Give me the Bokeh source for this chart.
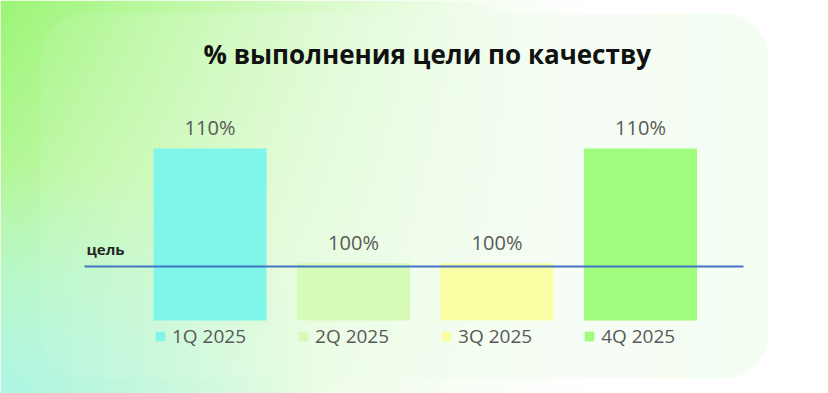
import numpy as np
from bokeh.plotting import figure
from bokeh.models import ColumnDataSource, Range1d, Legend, LegendItem
from bokeh.core.properties import value
from bokeh.embed import file_html
from bokeh.resources import INLINE

# ---- data ----
quarters = ["1Q 2025", "2Q 2025", "3Q 2025", "4Q 2025"]
pct = [110, 100, 100, 110]
pct_labels = ["110%", "100%", "100%", "110%"]
target = 99.7
target_label = "цель"
title_text = "% выполнения цели по качеству"
bar_colors = ["#80F5E9", "#D6FBB9", "#F9FEA5", "#A0FC7C"]

# ---- geometry ----
W, H = 828, 393
axis_min = 95
px_per_cat = 143.5
px_per_unit = 11.467
x0 = -209.5 / px_per_cat
x1 = x0 + W / px_per_cat
y0 = axis_min - (H - 320) / px_per_unit
y1 = y0 + H / px_per_unit

p = figure(width=W, height=H, output_backend="svg", toolbar_location=None,
           x_range=Range1d(x0, x1), y_range=Range1d(y0, y1),
           min_border=0, min_border_left=0, min_border_right=0,
           min_border_top=0, min_border_bottom=0)
p.axis.visible = False
p.grid.visible = False
p.outline_line_color = None
p.border_fill_color = "white"

# ---- background gradient + card ----
X, Y = np.meshgrid(np.arange(W) + 0.5, np.arange(H) + 0.5)
green = np.array([156, 245, 118], float)
cyan = np.array([170, 245, 232], float)
white = np.array([255, 255, 255], float)
wg = np.clip(1 - X / 580, 0, 1) ** 1.2 * (1 - 0.55 * Y / 393)
wc = np.clip(1 - np.sqrt((X / 330) ** 2 + ((393 - Y) / 230) ** 2), 0, 1) * 0.9
rgb = white * (1 - wg[..., None]) + green * wg[..., None]
rgb = rgb * (1 - wc[..., None]) + cyan * wc[..., None]
# rounded card
cx0, cx1, cy0, cy1, r = 40, 768, 13, 378, 45
dx = np.maximum(np.maximum(cx0 + r - X, X - (cx1 - r)), 0)
dy = np.maximum(np.maximum(cy0 + r - Y, Y - (cy1 - r)), 0)
inside = (X >= cx0) & (X <= cx1) & (Y >= cy0) & (Y <= cy1) & (dx ** 2 + dy ** 2 <= r ** 2)
K = np.array([236, 252, 233], float)
a = (0.08 + 0.5 * np.clip((X - cx0) / (cx1 - cx0), 0, 1)) * inside
rgb = rgb * (1 - a[..., None]) + K * a[..., None]
arr = np.zeros((H, W, 4), dtype=np.uint8)
arr[..., :3] = np.clip(rgb, 0, 255).astype(np.uint8)
arr[..., 3] = 255
img = np.flipud(arr).copy().view(np.uint32).reshape(H, W)
p.image_rgba(image=[img], x=x0, y=y0, dw=x1 - x0, dh=y1 - y0)

# ---- bars ----
idx = list(range(len(quarters)))
src = ColumnDataSource(dict(x=idx, top=pct, color=bar_colors, q=quarters,
                            lab=pct_labels,
                            ly=[v + 21 / px_per_unit for v in pct]))
bars = p.vbar(x="x", top="top", bottom=axis_min, width=113 / px_per_cat,
              fill_color="color", line_color=None, source=src)

p.text(x="x", y="ly", text="lab", source=src, text_align="center",
       text_baseline="alphabetic", text_font=value("Open Sans"),
       text_font_size="20px", text_color="#595959")

# ---- target line ----
line_start = (84 - 209.5) / px_per_cat
line_end = (743 - 209.5) / px_per_cat
p.line(x=[line_start, line_end], y=[target, target], line_color="#4472C4",
       line_width=2)
p.text(x=[line_start + 2 / px_per_cat], y=[target + 18 / px_per_unit],
       text=[target_label], text_align="left", text_baseline="alphabetic",
       text_font=value("Open Sans"), text_font_style="bold",
       text_font_size="15px", text_color="#262626")

# ---- title ----
p.text(x=[(sum(idx) / len(idx)) + 2 / px_per_cat],
       y=[axis_min + (320 - 53) / px_per_unit], text=[title_text],
       text_align="center", text_baseline="alphabetic",
       text_font=value("Open Sans"), text_font_style="bold",
       text_font_size="26px", text_color="#111111")

# ---- legend ----
items = [LegendItem(label=q, renderers=[bars], index=i) for i, q in enumerate(quarters)]
legend = Legend(items=items, orientation="horizontal", location=(154, 44),
                glyph_width=12, glyph_height=12, label_standoff=6, spacing=51,
                padding=0, margin=0, border_line_color=None,
                background_fill_alpha=0, label_text_font="Open Sans",
                label_text_font_size="19px", label_text_color="#595959",
                label_height=12)
p.add_layout(legend, "center")

open("out.html", "w").write(file_html(p, INLINE))
